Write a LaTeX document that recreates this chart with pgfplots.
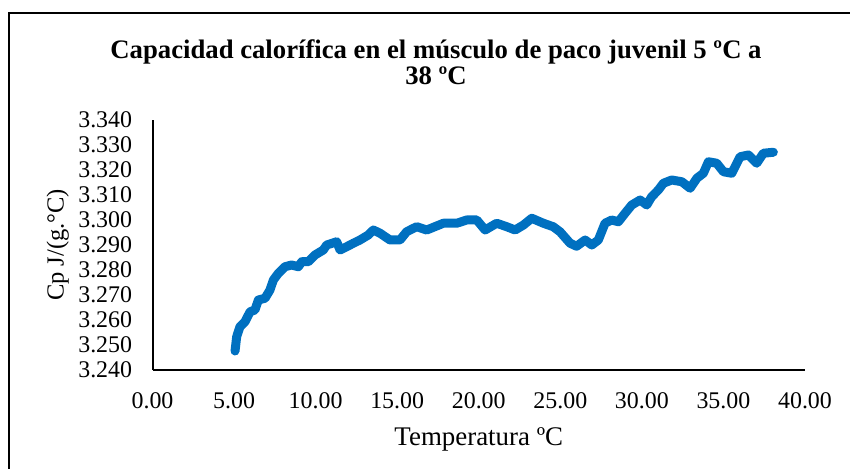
\documentclass[border=0pt]{standalone}
\usepackage{fontspec}
\setmainfont{Liberation Serif}
\usepackage{pgfplots}
\pgfplotsset{compat=1.18}
\usepackage{pgfplotstable}
\definecolor{xlblue}{RGB}{0,112,192}
\pgfplotstableread{
x y
5.06 3.2476
5.16 3.2533
5.36 3.2573
5.67 3.2593
5.98 3.2633
6.28 3.2640
6.49 3.2680
6.90 3.2687
7.20 3.2720
7.41 3.2760
7.72 3.2787
8.12 3.2813
8.53 3.2820
8.94 3.2813
9.15 3.2833
9.55 3.2833
9.96 3.2860
10.47 3.2880
10.68 3.2900
11.29 3.2913
11.50 3.2880
11.90 3.2893
12.31 3.2907
12.72 3.2920
13.23 3.2940
13.54 3.2960
13.95 3.2947
14.56 3.2920
15.17 3.2920
15.58 3.2953
16.00 3.2967
16.20 3.2973
16.81 3.2960
17.83 3.2987
18.65 3.2987
19.26 3.3000
19.88 3.3000
20.39 3.2960
21.10 3.2987
21.72 3.2973
22.23 3.2960
22.74 3.2980
23.25 3.3007
23.96 3.2987
24.57 3.2973
24.98 3.2953
25.60 3.2907
26.00 3.2895
26.52 3.2920
26.93 3.2900
27.33 3.2920
27.74 3.2987
28.15 3.3000
28.56 3.2993
28.97 3.3027
29.38 3.3060
29.89 3.3080
30.30 3.3060
30.60 3.3093
31.01 3.3120
31.32 3.3147
31.83 3.3160
32.45 3.3153
32.96 3.3127
33.37 3.3167
33.77 3.3187
34.08 3.3233
34.59 3.3227
35.00 3.3193
35.51 3.3187
36.02 3.3253
36.53 3.3260
37.04 3.3227
37.45 3.3267
38.06 3.3271
}\cpdata
\begin{document}
\begin{tikzpicture}
\useasboundingbox (0,0) rectangle (425bp,234.5bp);
\draw[line width=1.2bp] (4.5bp,0) -- (4.5bp,228bp) -- (425bp,228bp);
\node[font=\fontsize{13.4}{13.5}\selectfont\bfseries, align=center, anchor=base] at (218bp,192bp) {Capacidad calorífica en el músculo de paco juvenil 5 ºC a\\38 ºC};
\begin{axis}[
  at={(76.25bp,49.5bp)}, anchor=south west,
  scale only axis, width=326.25bp, height=125bp,
  xmin=0, xmax=40, ymin=3.240, ymax=3.340,
  xtick={0,5,...,40}, ytick={3.24,3.25,...,3.341},
  axis x line=bottom, axis y line=left,
  axis line style={-, line width=1bp},
  major tick length=0pt,
  /pgf/number format/assume math mode=true,
  xticklabel style={/pgf/number format/fixed, /pgf/number format/precision=2, /pgf/number format/fixed zerofill, font=\fontsize{12}{13}\selectfont, inner sep=0pt, anchor=north, yshift=-11bp},
  yticklabel style={/pgf/number format/fixed, /pgf/number format/precision=3, /pgf/number format/fixed zerofill, font=\fontsize{12}{13}\selectfont, inner sep=0pt, anchor=east, xshift=-10bp},
  xlabel={Temperatura ºC},
  ylabel={Cp J/(g.°C)},
  xlabel style={font=\fontsize{13.5}{14}\selectfont, at={(axis description cs:0.5,-0.3)}, anchor=base},
  ylabel style={font=\fontsize{12.3}{14}\selectfont, at={(axis description cs:-0.145,0.5)}, anchor=center},
  clip=false,
]
\addplot[xlblue, line width=4.5bp, line join=round, line cap=round] table[x=x,y=y] {\cpdata};
\end{axis}
\end{tikzpicture}
\end{document}
